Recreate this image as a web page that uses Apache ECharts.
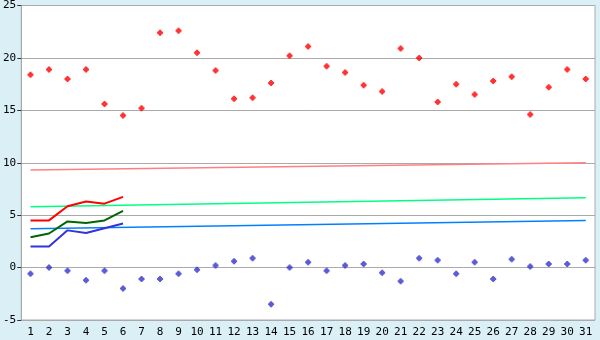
<!DOCTYPE html>
<html>
<head>
<meta charset="utf-8">
<script src="https://cdn.jsdelivr.net/npm/echarts@6/dist/echarts.min.js"></script>
<style>
  html, body { margin: 0; padding: 0; background: #daf0f6; }
  #chart { width: 600px; height: 340px; }
</style>
</head>
<body>
<div id="chart"></div>
<script>
// categories: day of month
const days = [];
for (let d = 1; d <= 31; d++) days.push(String(d));

// daily high / low points
const highPoints = [18.4, 18.9, 18.0, 18.9, 15.6, 14.5, 15.2, 22.4, 22.6, 20.5,
                    18.8, 16.1, 16.2, 17.6, 20.2, 21.1, 19.2, 18.6, 17.4, 16.8,
                    20.9, 20.0, 15.8, 17.5, 16.5, 17.8, 18.2, 14.6, 17.2, 18.9, 18.0];
const lowPoints = [-0.6, 0.0, -0.3, -1.2, -0.3, -2.0, -1.1, -1.1, -0.6, -0.2,
                   0.2, 0.6, 0.9, -3.5, 0.0, 0.5, -0.3, 0.2, 0.35, -0.5,
                   -1.3, 0.9, 0.7, -0.6, 0.5, -1.1, 0.8, 0.1, 0.35, 0.35, 0.7];

// short thick lines (first 6 days)
const redLine = [4.5, 4.5, 5.85, 6.3, 6.1, 6.75];
const greenLine = [2.9, 3.25, 4.4, 4.25, 4.5, 5.4];
const blueLine = [2.0, 2.0, 3.55, 3.3, 3.75, 4.2];

// thin trend lines: start (day 1) and end (day 31)
const pinkTrend = [9.3, 10.0];
const greenTrend = [5.8, 6.65];
const blueTrend = [3.7, 4.5];

const yTicks = ['-5', '0', '5', '10', '15', '20', '25'];

function trend(ends) {
  const arr = days.map(() => null);
  arr[0] = ends[0];
  arr[arr.length - 1] = ends[1];
  return arr;
}

// fat plus marker
const plus = 'path://M2,0H4V1H5V2H6V4H5V5H4V6H2V5H1V4H0V2H1V1H2Z';
const font = 'DejaVu Sans Mono';

const chart = echarts.init(document.getElementById('chart'));
chart.setOption({
  animation: false,
  backgroundColor: '#daf0f6',
  grid: {
    left: 20, right: 5, top: 5, bottom: 20,
    show: true, backgroundColor: '#fff', borderColor: '#aaa', borderWidth: 1
  },
  xAxis: {
    type: 'category',
    data: days,
    boundaryGap: true,
    axisLine: { lineStyle: { color: '#aaa', width: 1 } },
    axisTick: { alignWithLabel: true, length: 5, lineStyle: { color: '#333' } },
    axisLabel: { color: '#000', fontFamily: font, fontSize: 11, margin: 7, interval: 0 },
    splitLine: { show: false }
  },
  yAxis: {
    type: 'value',
    min: -5, max: 25, interval: 5,
    axisLine: { show: true, lineStyle: { color: '#aaa', width: 1 } },
    axisTick: { show: true, length: 4, lineStyle: { color: '#333' } },
    axisLabel: {
      color: '#000', fontFamily: font, fontSize: 11, margin: 5,
      formatter: v => yTicks[yTicks.indexOf(String(v))]
    },
    splitLine: { lineStyle: { color: '#aaa', width: 1 } }
  },
  series: [
    { type: 'line', data: trend(pinkTrend), connectNulls: true, symbol: 'none',
      lineStyle: { color: '#ff8080', width: 1.5 } },
    { type: 'line', data: trend(greenTrend), connectNulls: true, symbol: 'none',
      lineStyle: { color: '#00ff80', width: 1.5 } },
    { type: 'line', data: trend(blueTrend), connectNulls: true, symbol: 'none',
      lineStyle: { color: '#0080ff', width: 1.5 } },
    { type: 'line', data: redLine, symbol: 'none', lineStyle: { color: '#ff0000', width: 2 } },
    { type: 'line', data: greenLine, symbol: 'none', lineStyle: { color: '#006600', width: 2 } },
    { type: 'line', data: blueLine, symbol: 'none', lineStyle: { color: '#3333dd', width: 2 } },
    { type: 'scatter', data: highPoints, symbol: plus, symbolSize: 6,
      itemStyle: { color: '#ff0000' } },
    { type: 'scatter', data: lowPoints, symbol: plus, symbolSize: 6,
      itemStyle: { color: '#3333cc' } }
  ]
});
</script>
</body>
</html>
